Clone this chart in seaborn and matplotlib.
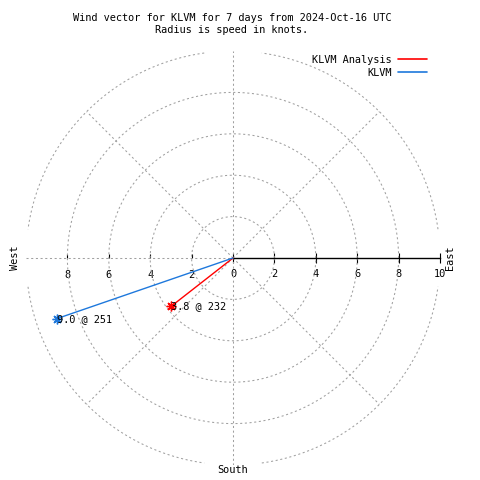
import numpy as np
import pandas as pd
import matplotlib
matplotlib.use("Agg")
import matplotlib.pyplot as plt
import seaborn as sns

# ==========================
# Data
# ==========================

series_names = ["KLVM Analysis", "KLVM"]
speeds_kt = [3.8, 9.0]
directions_deg = [232, 251]
series_colors = ["#ff0000", "#1e78dc"]

rings = [2, 4, 6, 8, 10]
east_ticks = [0, 2, 4, 6, 8, 10]
west_ticks = [-8, -6, -4, -2]

title_text = "Wind vector for KLVM for 7 days from 2024-Oct-16 UTC\nRadius is speed in knots."

# ==========================
# Style
# ==========================

sns.set_style("white")
plt.rcParams["font.family"] = ["DejaVu Sans Mono", "DejaVu Sans"]
plt.rcParams["text.color"] = "black"
plt.rcParams["xtick.color"] = "black"
plt.rcParams["axes.edgecolor"] = "black"
FS = 7.4
GRID = "#a0a0a0"
DASH = (0, (2.0, 2.5))

fig = plt.figure(figsize=(4.8, 4.8), dpi=100)
ax = fig.add_axes([26 / 480, 15 / 480, 414 / 480, 414 / 480])
ax.set_xlim(-10, 10)
ax.set_ylim(-10, 10)
ax.set_aspect("equal")

# ==========================
# Polar grid
# ==========================

t = np.linspace(0, 2 * np.pi, 361)
for r in rings[:-1]:
    ax.plot(r * np.cos(t), r * np.sin(t), color=GRID, lw=0.75, ls=DASH, zorder=1)

# outer ring has small gaps where it meets the axes
for q in range(4):
    ta = np.radians(np.linspace(8, 82, 80) + 90 * q)
    ax.plot(rings[-1] * np.cos(ta), rings[-1] * np.sin(ta),
            color=GRID, lw=0.75, ls=DASH, zorder=1)

for a in [45, 135, 225, 315]:
    ar = np.radians(a)
    ax.plot([0, rings[-1] * np.cos(ar)], [0, rings[-1] * np.sin(ar)],
            color=GRID, lw=0.75, ls=DASH, zorder=1)

ax.plot([0, 0], [-10, 10], color=GRID, lw=0.75, ls=DASH, zorder=1)
ax.plot([-10, 0], [0, 0], color=GRID, lw=0.75, ls=DASH, zorder=1)

# ==========================
# Axis with ticks
# ==========================

for s in ["top", "right", "left"]:
    ax.spines[s].set_visible(False)
ax.spines["bottom"].set_position(("data", 0))
ax.spines["bottom"].set_bounds(0, 10)
ax.spines["bottom"].set_linewidth(1.0)
ax.spines["bottom"].set_zorder(2)

ax.set_xticks(east_ticks, [str(v) for v in east_ticks])
ax.set_xticks(west_ticks, [str(abs(v)) for v in west_ticks], minor=True)
ax.tick_params(axis="x", which="major", bottom=True, direction="inout",
               length=6.5, width=0.8, pad=5.0, labelsize=FS)
ax.tick_params(axis="x", which="minor", bottom=True, direction="in",
               length=3.2, width=0.8, pad=8.5, labelsize=FS)
ax.set_yticks([])

ax.text(-10.55, 0, "West", rotation=90, ha="center", va="center", fontsize=FS)
ax.text(10.5, 0, "East", rotation=90, ha="center", va="center", fontsize=FS)
ax.text(0, -10.25, "South", ha="center", va="center", fontsize=FS)

# ==========================
# Wind vectors
# ==========================

rows = []
for name, spd, d in zip(series_names, speeds_kt, directions_deg):
    rows.append({"series": name, "step": 0, "x": 0.0, "y": 0.0})
    rows.append({"series": name, "step": 1,
                 "x": spd * np.sin(np.radians(d)),
                 "y": spd * np.cos(np.radians(d))})
df = pd.DataFrame(rows)

for name, color in zip(series_names, series_colors):
    sub = df[df["series"] == name]
    sns.lineplot(data=sub, x="x", y="y", sort=False, color=color,
                 lw=1.0, label=name, legend=False, ax=ax, zorder=3)
    tip = sub[sub["step"] == 1]
    ax.plot(tip["x"], tip["y"], ls="none", marker=(8, 2, 0), ms=7,
            mew=1.0, color=color, zorder=4)

for name, spd, d in zip(series_names, speeds_kt, directions_deg):
    tip = df[(df["series"] == name) & (df["step"] == 1)].iloc[0]
    ax.text(tip["x"], tip["y"], f"{spd:.1f} @ {d}", ha="left", va="center",
            fontsize=FS, zorder=5)

ax.set_xlabel("")
ax.set_ylabel("")

leg = ax.legend(loc="upper right", bbox_to_anchor=(427 / 480, 1 - 55 / 480),
                bbox_transform=fig.transFigure, frameon=False, markerfirst=False,
                fontsize=FS, handlelength=2.8, handletextpad=0.65,
                labelspacing=0.25, borderpad=0, borderaxespad=0)
for h in leg.legend_handles:
    h.set_linewidth(1.2)

fig.text(232 / 480, 1 - 13 / 480, title_text, ha="center", va="top",
         fontsize=FS, linespacing=1.25)

fig.savefig("out.png", dpi=100)
